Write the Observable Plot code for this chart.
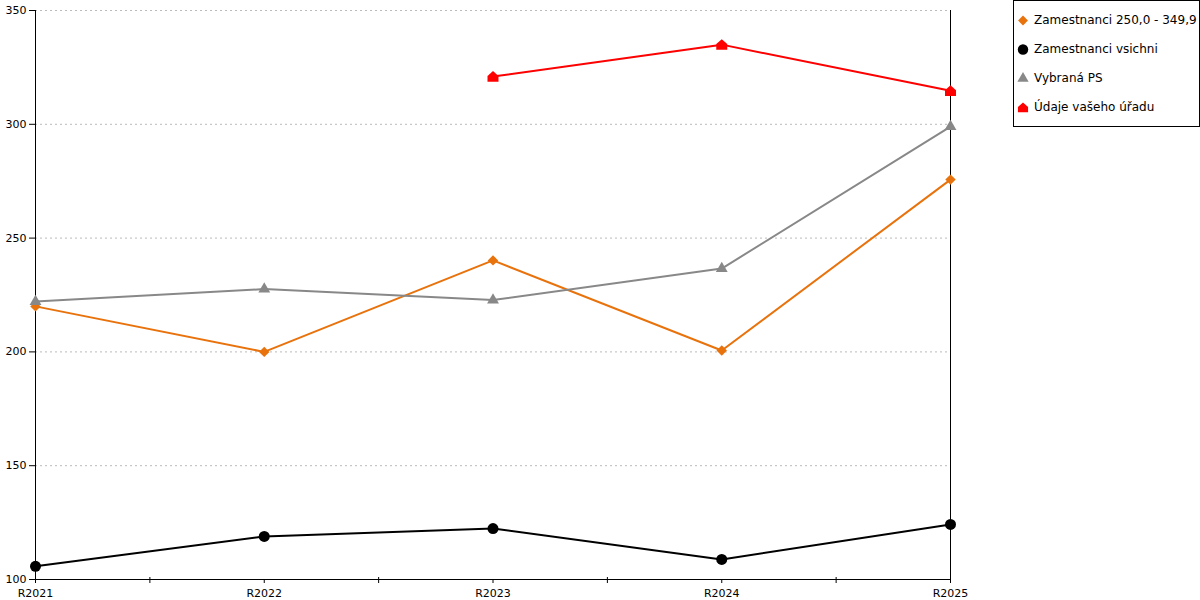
<!DOCTYPE html>
<html>
<head>
<meta charset="utf-8">
<script src="https://cdn.jsdelivr.net/npm/d3@7"></script>
<script src="https://cdn.jsdelivr.net/npm/@observablehq/plot@0.6"></script>
<style>
  html, body { margin: 0; padding: 0; background: #fff; }
  body { width: 1200px; height: 600px; position: relative; overflow: hidden; font-family: "DejaVu Sans", sans-serif; }
  #legend { position: absolute; left: 1013px; top: 0px; width: 185px; height: 125px; border: 1px solid #000; background: #fff; font-size: 12px; color: #000; }
  .item { position: absolute; left: 0; height: 16px; display: flex; align-items: center; }
  .item svg { margin-left: 2px; margin-right: 4px; }
</style>
</head>
<body>
<div id="chart"></div>
<div id="legend"></div>
<script>
const years = ["R2021", "R2022", "R2023", "R2024", "R2025"];
const zam250 = [220, 200, 240.2, 200.6, 275.7];
const zamAll = [105.8, 118.9, 122.4, 108.8, 124.2];
const vybranaPS = [222.1, 227.6, 222.8, 236.6, 299];
const udaje = [null, null, 321, 335, 314.7];
const yTicks = [100, 150, 200, 250, 300, 350];

const seriesNames = ["Zamestnanci 250,0 - 349,9", "Zamestnanci vsichni", "Vybraná PS", "Údaje vašeho úřadu"];
const seriesColors = ["#E8720C", "#000000", "#888888", "#FF0000"];

// custom "house" symbol (pentagon pointing up)
const house = {
  draw(context, size) {
    const s = Math.sqrt(size) / 2;
    context.moveTo(0, -s);
    context.lineTo(s, -s * 0.1);
    context.lineTo(s, s * 0.95);
    context.lineTo(-s, s * 0.95);
    context.lineTo(-s, -s * 0.1);
    context.closePath();
  }
};
const seriesSymbols = ["diamond2", "circle", "triangle", house];
const seriesR = [4.7, 5.5, 4.4, 6.2];

const allSeries = [zam250, zamAll, vybranaPS, udaje];
const rows = [];
allSeries.forEach((vals, s) => {
  vals.forEach((v, i) => {
    if (v != null) rows.push({series: seriesNames[s], idx: i, value: v});
  });
});
const idx = years.map((_, i) => i);
const mids = idx.slice(0, -1).map(i => i + 0.5);

const marks = [
  Plot.gridY(yTicks.slice(1), {stroke: "#bbbbbb", strokeOpacity: 1, strokeDasharray: "2,3"}),
  Plot.axisY(yTicks, {tickSize: 6, tickPadding: 3, fontSize: 11, fill: "#000", label: null}),
  Plot.axisX(idx, {tickSize: 4, tickPadding: 6, fontSize: 11, tickFormat: i => years[i], label: null}),
  Plot.axisX(mids, {tickSize: 6, dy: -2, text: null, tickFormat: null, label: null}),
  Plot.ruleX([idx[0], idx[idx.length - 1]], {stroke: "#000"}),
  Plot.ruleY([yTicks[0]], {stroke: "#000"})
];
seriesNames.forEach((name, s) => {
  const data = rows.filter(d => d.series === name);
  marks.push(Plot.line(data, {x: "idx", y: "value", stroke: seriesColors[s], strokeWidth: 2}));
  marks.push(Plot.dot(data, {x: "idx", y: "value", fill: seriesColors[s], symbol: () => seriesSymbols[s], r: seriesR[s], stroke: "none"}));
});

const chart = Plot.plot({
  width: 1200,
  height: 600,
  marginLeft: 35,
  marginRight: 250,
  marginTop: 10,
  marginBottom: 21,
  style: {fontFamily: "DejaVu Sans, sans-serif", fontSize: "11px", color: "#000", background: "#fff"},
  x: {type: "linear", domain: [0, years.length - 1]},
  y: {domain: [yTicks[0], yTicks[yTicks.length - 1]]},
  symbol: {type: "identity"},
  marks
});
document.getElementById("chart").appendChild(chart);

// legend
const legend = document.getElementById("legend");
seriesNames.forEach((name, s) => {
  const item = document.createElement("div");
  item.className = "item";
  item.style.top = (11 + s * 29) + "px";
  const sym = d3.create("svg").attr("width", 14).attr("height", 14);
  const symType = typeof seriesSymbols[s] === "string"
    ? {diamond2: d3.symbolDiamond2, circle: d3.symbolCircle, triangle: d3.symbolTriangle}[seriesSymbols[s]]
    : seriesSymbols[s];
  sym.append("path")
    .attr("transform", "translate(7,7.5)")
    .attr("fill", seriesColors[s])
    .attr("d", d3.symbol(symType, Math.PI * seriesR[s] * seriesR[s] * (s === 3 ? 0.85 : 0.9))());
  item.appendChild(sym.node());
  const t = document.createElement("span");
  t.textContent = name;
  item.appendChild(t);
  legend.appendChild(item);
});
</script>
</body>
</html>
